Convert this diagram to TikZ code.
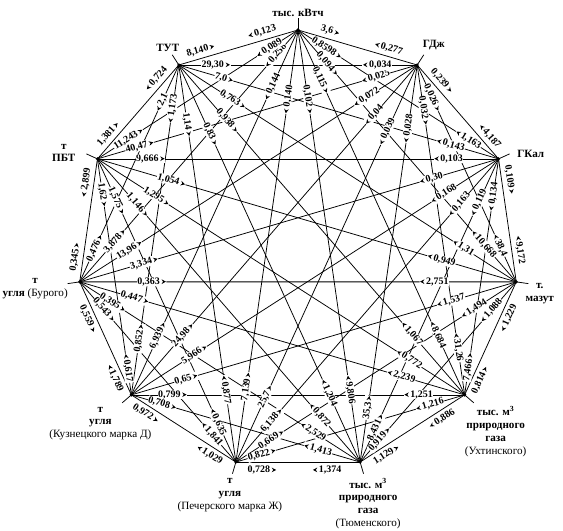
\documentclass[tikz,border=0pt]{standalone}
\usepackage{fontspec}
\setmainfont{Liberation Serif}
\usepackage{tikz}
\usetikzlibrary{positioning,calc,backgrounds}
\newcommand{\rtip}{\tikz[baseline=-0.6ex]\fill (0,0) -- (-3.8pt,2pt) -- (-2.5pt,0) -- (-3.8pt,-2pt) -- cycle;}
\newcommand{\ltip}{\tikz[baseline=-0.6ex]\fill (0,0) -- (3.8pt,2pt) -- (2.5pt,0) -- (3.8pt,-2pt) -- cycle;}
\tikzset{
  vdot/.style={circle, fill=black, inner sep=0pt, minimum size=3pt},
  vname/.style={font=\fontsize{9.5}{11}\selectfont\bfseries, align=center, inner sep=1pt},
  lbl/.style={sloped, fill=white, inner sep=0.4pt, font=\fontsize{8.5}{9}\selectfont\bfseries},
  lblo/.style={sloped, inner sep=0.4pt, outer sep=3pt, font=\fontsize{8.5}{9}\selectfont\bfseries},
  link/.style={line width=0.65pt}
}

\begin{document}
\begin{tikzpicture}[line width=0.65pt]
  \useasboundingbox (-8.94,-8.385) rectangle (7.95,7.515);

  % ring of units
  \foreach \k in {0,...,10}
    \node[vdot] (v\k) at ({90-\k*360/11}:6.615) {};
  \foreach \k in {0,...,10}{
    \coordinate (t\k) at ({90-\k*360/11}:6.98);
    \draw (v\k.center) -- (t\k);
  }

  \node[vname, above=0.3cm of v0] (n0) {тыс. кВтч};
  \node[vname, above=0.35cm of v1, xshift=0.5cm] (n1) {ГДж};
  \node[vname, right=0.45cm of v2, yshift=0.15cm] (n2) {ГКал};
  \node[vname, right=0.17cm of v3, yshift=-0.36cm] (n3) {т.\\мазут};
  \node[vname, below=0.22cm of v4, xshift=0.93cm] (n4)
       {тыс. м\textsuperscript{3}\\природного\\газа\\{\mdseries(Ухтинского)}};
  \node[vname, below=0.38cm of v5, xshift=0.24cm] (n5)
       {тыс. м\textsuperscript{3}\\природного\\газа\\{\mdseries(Тюменского)}};
  \node[vname, below=0.38cm of v6, xshift=-0.18cm] (n6)
       {т\\угля\\{\mdseries(Печерского марка Ж)}};
  \node[vname, below=0.25cm of v7, xshift=-0.93cm] (n7)
       {т\\угля\\{\mdseries(Кузнецкого марка Д)}};
  \node[vname, left=0.25cm of v8, yshift=-0.21cm] (n8) {т\\угля {\mdseries(Бурого)}};
  \node[vname, left=0.55cm of v9, yshift=0.18cm] (n9) {т\\ПБТ};
  \node[vname, above=0.3cm of v10, xshift=-0.33cm] (n10) {ТУТ};

  % every pair of units: factor near the unit it starts from, distance in px
  \foreach \a/\b/\na/\nb/\da/\db in {
      0/1/{3,6}/{0,277}/31/32, 0/2/{0,8598}/{1,163}/34/36,
      0/3/{0,094}/{10,668}/45/50, 0/4/{0,115}/{8,684}/55/66,
      0/5/{0,102}/{9,806}/70/73, 0/6/{0,140}/{7,139}/70/76,
      0/7/{0,144}/{6,939}/62/65, 0/8/{0,258}/{3,878}/34/54,
      0/9/{0,089}/{11,243}/34/37, 0/10/{0,123}/{8,140}/35/25,
      1/2/{0,239}/{4,187}/28/23, 1/3/{0,026}/{38,4}/36/40,
      1/4/{0,032}/{31,26}/46/48, 1/5/{0,028}/{35,3}/64/55,
      1/6/{0,039}/{25,7}/73/72, 1/7/{0,04}/{24,98}/66/79,
      1/8/{0,072}/{13,96}/60/59, 1/9/{0,025}/{40,47}/43/44,
      1/10/{0,034}/{29,30}/40/37,
      2/3/{0,109}/{9,172}/22/31, 2/4/{0,134}/{7,466}/38/28,
      2/5/{0,119}/{8,431}/48/38, 2/6/{0,163}/{6,138}/60/55,
      2/7/{0,168}/{5,966}/65/75, 2/8/{0,30}/{3,334}/70/67,
      2/9/{0,103}/{9,666}/50/53, 2/10/{0,143}/{7,0}/50/47,
      3/4/{1,229}/{0,814}/36/20, 3/5/{1,088}/{0,919}/38/30,
      3/6/{1,494}/{0,669}/50/42, 3/7/{1,537}/{0,65}/68/57,
      3/8/{2,751}/{0,363}/82/72, 3/9/{0,949}/{1,054}/78/77,
      3/10/{1,31}/{0,763}/63/64,
      4/5/{0,886}/{1,129}/32/26, 4/6/{1,216}/{0,822}/36/27,
      4/7/{1,251}/{0,799}/46/41, 4/8/{2,239}/{0,447}/66/57,
      4/9/{0,772}/{1,295}/66/70, 4/10/{1,067}/{0,938}/81/74,
      5/6/{1,374}/{0,728}/33/26, 5/7/{1,413}/{0,708}/44/32,
      5/8/{2,529}/{0,395}/56/39, 5/9/{0,872}/{1,146}/62/61,
      5/10/{1,204}/{0,83}/76/76,
      6/7/{1,029}/{0,972}/26/22, 6/8/{1,841}/{0,543}/37/37,
      6/9/{0,635}/{1,575}/44/46, 6/10/{0,877}/{1,14}/73/60,
      7/8/{1,789}/{0,559}/22/37, 7/9/{0,617}/{1,62}/27/36,
      7/10/{0,852}/{1,173}/57/44,
      8/9/{0,345}/{2,899}/24/25, 8/10/{0,476}/{2,1}/37/41,
      9/10/{1,381}/{0,724}/26/25}{
    \pgfmathtruncatemacro{\s}{min(abs(\a-\b),11-abs(\a-\b))}
    \pgfmathsetmacro{\L}{441*sin(\s*180/11)}
    \pgfmathsetmacro{\f}{\da/\L}
    \pgfmathsetmacro{\g}{1-\db/\L}
    \pgfmathsetmacro{\dx}{sin(\b*360/11)-sin(\a*360/11)}
    \ifdim\dx pt>0pt
      \def\ta{\na\,\rtip}\def\tb{\ltip\,\nb}
    \else
      \def\ta{\ltip\,\na}\def\tb{\nb\,\rtip}
    \fi
    \begin{pgfonlayer}{background}
      \draw[link] (v\a.center) -- (v\b.center);
    \end{pgfonlayer}
    \ifnum\s=1
      % sides of the ring: factors sit outside the line
      \pgfmathsetmacro{\my}{cos(\a*360/11)+cos(\b*360/11)}
      \ifdim\my pt>0pt \def\side{south}\else\def\side{north}\fi
      \path (v\a.center) -- (v\b.center)
        node[lblo, anchor=\side, pos=\f] {\ta}
        node[lblo, anchor=\side, pos=\g] {\tb};
    \else
      \path (v\a.center) -- (v\b.center)
        node[lbl, pos=\f] {\ta} node[lbl, pos=\g] {\tb};
    \fi
  }
\end{tikzpicture}
\end{document}
